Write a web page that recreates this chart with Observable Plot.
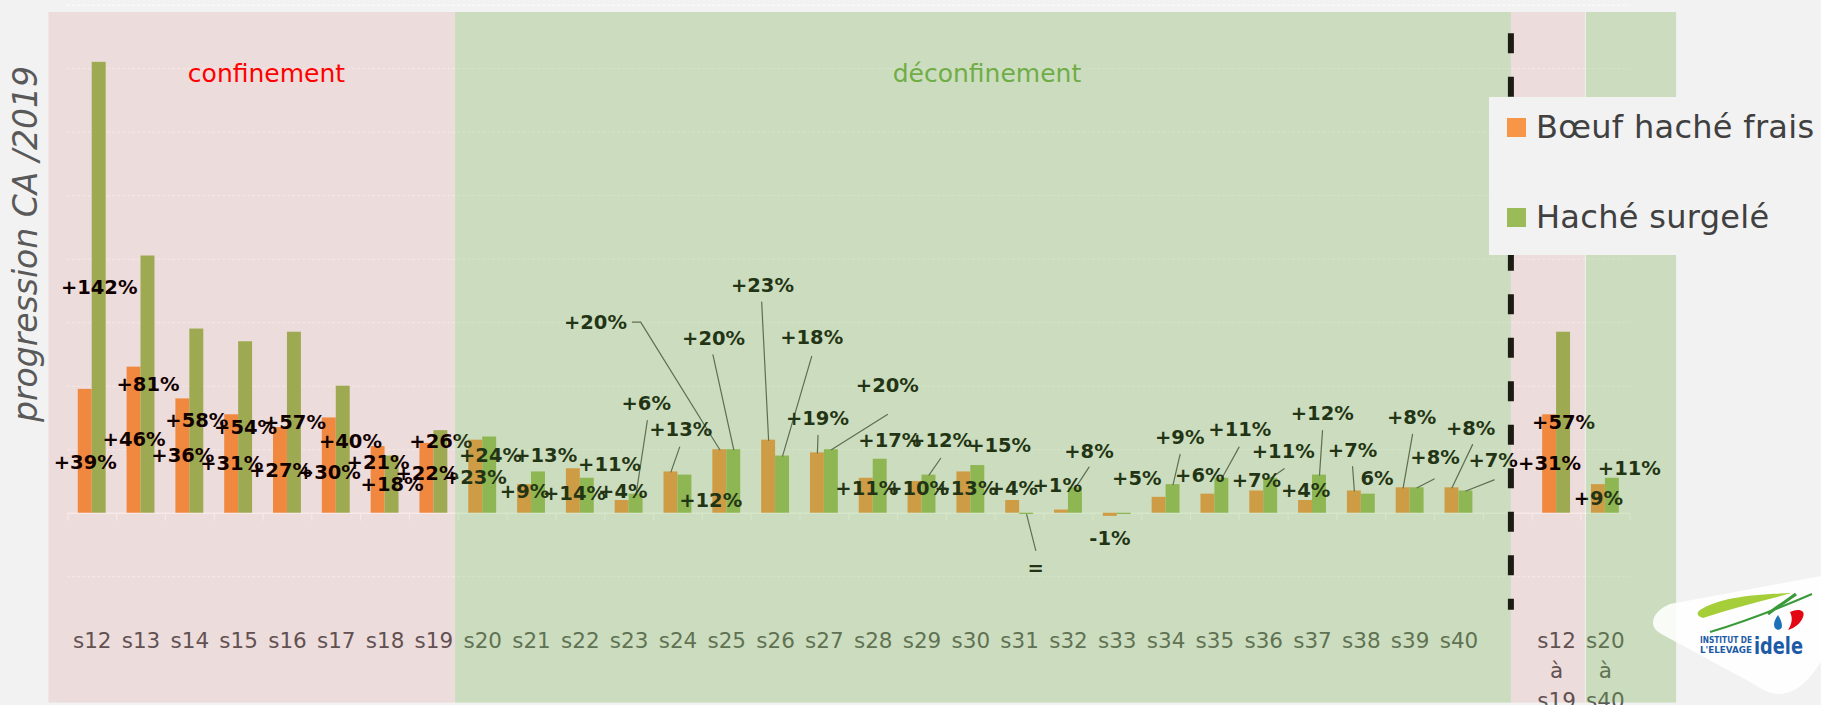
<!DOCTYPE html>
<html>
<head>
<meta charset="utf-8">
<script src="https://cdn.jsdelivr.net/npm/d3@7"></script>
<script src="https://cdn.jsdelivr.net/npm/@observablehq/plot@0.6"></script>
<style>
  html, body { margin: 0; padding: 0; background: #f2f2f2; }
  #wrap { position: relative; width: 1821px; height: 705px; overflow: hidden; background: #f2f2f2; font-family: "DejaVu Sans", sans-serif; }
  #chart { position: absolute; left: 0; top: 0; }
  #ytitle { position: absolute; width: 440px; height: 40px; line-height: 40px; left: 16.2px; top: 223.5px;
            margin-left: -210px; transform: rotate(-90deg); transform-origin: 50% 50%; text-align: center;
            font-family: "DejaVu Sans", sans-serif; font-style: italic; font-weight: 200; font-size: 33px; color: #595959; white-space: nowrap; }
  #legend { position: absolute; left: 1489px; top: 97px; width: 332px; height: 158px; background: #f2f2f2; }
  .item { position: absolute; left: 18px; height: 40px; display: flex; align-items: center; font-size: 32px; letter-spacing: 0.3px; color: #404040; white-space: nowrap; }
  .sw { width: 19px; height: 19px; margin-right: 10px; flex: none; }
  #logo { position: absolute; left: 1640px; top: 570px; }
</style>
</head>
<body>
<div id="wrap">
  <div id="chart"></div>
  <div id="ytitle">progression CA /2019</div>
  <div id="legend"></div>
  <svg id="logo" width="181" height="135" viewBox="0 0 181 135">
    <path d="M13,53 C13,45 20,38 30,34 L181,6 L181,92 C170,108 160,122 140,124 C130,125 120,118 110,112 L25,66 C17,62 13,58 13,53 Z" fill="#ffffff" fill-opacity="0.88"/>
    <path d="M60,40 C78,28 112,24 152,23 C122,31 92,38 63,48 C57,46 56,43 60,40 Z" fill="#a6ce39"/>
    <path d="M70,62 C100,53 135,40 172,24" fill="none" stroke="#3a9a3a" stroke-width="2"/>
    <path d="M128,44 C138,36 148,30 156,24" fill="none" stroke="#3a9a3a" stroke-width="3"/>
    <path d="M150,42 C158,38 166,40 163,47 C161,53 155,58 148,60 C152,54 153,48 150,42 Z" fill="#e30613"/>
    <path d="M138,45 C134,51 133,55 135,58 C137,61 142,60 142,56 C142,52 140,48 138,45 Z" fill="#1d71b8"/>
    <text x="60" y="73" font-family="DejaVu Sans" font-weight="bold" font-size="8" fill="#1d5aa6" textLength="52" lengthAdjust="spacingAndGlyphs">INSTITUT DE</text>
    <text x="60" y="83" font-family="DejaVu Sans" font-weight="bold" font-size="8" fill="#1d5aa6" textLength="52" lengthAdjust="spacingAndGlyphs">L'ELEVAGE</text>
    <text x="114" y="84" font-family="DejaVu Sans" font-weight="bold" font-size="23" fill="#1d5aa6" textLength="49" lengthAdjust="spacingAndGlyphs">idele</text>
  </svg>
</div>
<script>
// ---------------- DATA ----------------
const categories = ["s12","s13","s14","s15","s16","s17","s18","s19","s20","s21","s22","s23","s24","s25","s26","s27","s28","s29","s30","s31","s32","s33","s34","s35","s36","s37","s38","s39","s40","","s12\nà\ns19","s20\nà\ns40"];
const seriesNames = ["Bœuf haché frais", "Haché surgelé"];
const boeuf   = [39,46,36,31,27,30,21,22,23,9,14,4,13,20,23,19,11,10,13,4,1,-1,5,6,7,4,7,8,8,null,31,9];
const surgele = [142,81,58,54,57,40,18,26,24,13,11,6,12,20,18,20,17,12,15,-0.4,8,-0.4,9,11,11,12,6,8,7,null,57,11];
const boeufLabels   = ["+39%","+46%","+36%","+31%","+27%","+30%","+21%","+22%","+23%","+9%","+14%","+4%","+13%","+20%","+23%","+19%","+11%","+10%","+13%","+4%","+1%","-1%","+5%","+6%","+7%","+4%","+7%","+8%","+8%","","+31%","+9%"];
const surgeleLabels = ["+142%","+81%","+58%","+54%","+57%","+40%","+18%","+26%","+24%","+13%","+11%","+6%","+12%","+20%","+18%","+20%","+17%","+12%","+15%","=","+8%","","+9%","+11%","+11%","+12%","6%","+8%","+7%","","+57%","+11%"];
const periodNames = ["confinement", "déconfinement"];
const yGrid = [-20,20,40,60,80,100,120,140,160];

// -------------- LAYOUT (data units, kept apart from the data) --------------
const colors = ["#F79646", "#9BBB59"];
const barW = 1 / 3.5; // Excel gap width 150 %
// moved data labels: [x (slot units, null = default), y (% units)]
const labelPlacement = {
  "0|0": [null, 16.0], "5|0": [null, 12.8], "6|0": [null, 16.0], "7|0": [null, 12.5],
  "8|0": [7.85, 11.2], "9|0": [8.857, 6.6], "10|0": [9.88, 6.1], "11|0": [10.87, 6.6],
  "12|0": [12.057, 26.3], "13|0": [10.31, 60.1], "14|0": [13.73, 71.7], "15|0": [14.857, 29.7],
  "16|0": [15.87, 7.7], "17|0": [16.91, 7.7], "18|0": [17.90, 7.7], "19|0": [18.87, 7.7],
  "20|0": [19.77, 8.7], "21|0": [20.85, -8.1], "22|0": [21.40, 10.8], "23|0": [22.69, 11.9],
  "24|0": [23.85, 10.3], "25|0": [24.86, 7.1], "26|0": [25.82, 19.7], "27|0": [27.03, 30.2],
  "28|0": [28.24, 26.6],
  "5|1": [5.29, 22.6], "7|1": [null, 22.6], "8|1": [8.16, 18.2], "9|1": [9.29, 18.2],
  "10|1": [10.60, 15.2], "11|1": [11.35, 34.5], "12|1": [12.67, 4.0], "13|1": [12.73, 54.9],
  "14|1": [14.74, 55.2], "15|1": [16.29, 40.2], "16|1": [16.34, 22.9], "17|1": [17.38, 22.9],
  "18|1": [18.59, 21.3], "19|1": [19.33, -17.5], "20|1": [20.42, 19.2], "22|1": [22.28, 23.9],
  "23|1": [23.51, 26.4], "24|1": [24.40, 19.2], "25|1": [25.20, 31.3], "26|1": [26.32, 10.8],
  "27|1": [27.51, 17.4], "28|1": [28.70, 16.4], "31|1": [31.49, 14.0]
};
// leader lines: start points, they end at the top of their bar
const leaderStarts = {
  "11|1": [[11.373, 29.2]], "12|0": [[12.035, 20.8]], "13|0": [[11.066, 60.2], [11.236, 60.2]],
  "13|1": [[12.717, 49.9]], "14|0": [[13.715, 66.5]], "14|1": [[14.74, 49.4]], "15|0": [[14.869, 24.5]],
  "15|1": [[16.291, 31.1]], "17|1": [[17.383, 17.3]], "19|1": [[19.33, -11.7]], "20|1": [[20.422, 14.5]],
  "22|1": [[22.287, 18.5]], "23|1": [[23.496, 20.8]], "24|1": [[24.418, 14.0]], "25|1": [[25.205, 26.0]],
  "26|0": [[25.82, 14.7]], "27|0": [[27.049, 24.8]], "27|1": [[27.492, 10.8]], "28|0": [[28.279, 21.6]],
  "28|1": [[28.721, 10.5]]
};
const periodBands = [
  {x1: -0.885, x2: 7.445, fill: "rgb(192,0,0)", op: 0.09},
  {x1: 7.445, x2: 29.074, fill: "rgb(112,173,71)", op: 0.30},
  {x1: 29.074, x2: 30.59, fill: "rgb(192,0,0)", op: 0.09},
  {x1: 30.61, x2: 32.459, fill: "rgb(112,173,71)", op: 0.30}
];
const bandTop = 157.7, bandBottom = -59.8;
const periodTitles = [
  {x: 3.57, y: 138.3, text: periodNames[0], fill: "#ff0000"},
  {x: 18.33, y: 138.3, text: periodNames[1], fill: "#70AD47"}
];

// -------------- BUILD --------------
const series = [boeuf, surgele];
const seriesLabels = [boeufLabels, surgeleLabels];
const bars = [], labels = [], leaders = [];
categories.forEach((c, i) => {
  [0, 1].forEach(s => {
    const v = series[s][i];
    if (v == null) return;
    const x1 = s === 0 ? i - barW : i;
    const x2 = s === 0 ? i : i + barW;
    const cx = (x1 + x2) / 2;
    bars.push({i, s, v, x1, x2});
    const key = i + "|" + s;
    const p = labelPlacement[key];
    const lx = p && p[0] != null ? p[0] : cx;
    const ly = p ? p[1] : v / 2;
    if (seriesLabels[s][i]) labels.push({x: lx, y: ly, text: seriesLabels[s][i]});
    if (leaderStarts[key]) {
      leaderStarts[key].forEach(([x, y]) => leaders.push({key, x, y}));
      leaders.push({key, x: cx, y: v});
    }
  });
});
const tickRows = categories.map((c, i) => ({i, c})).filter(d => d.c);
const boundaries = d3.range(-0.5, 32, 1);

const F = "DejaVu Sans, sans-serif";
const plot = Plot.plot({
  width: 1821,
  height: 705,
  marginLeft: 67.3,
  marginRight: 191.7,
  marginTop: 4.7,
  marginBottom: 128.8,
  style: {background: "transparent", fontFamily: F, overflow: "visible"},
  x: {domain: [-0.5, 31.5], axis: null},
  y: {domain: [-20, 160], axis: null},
  marks: [
    Plot.ruleY(yGrid, {stroke: "#ffffff", strokeWidth: 1, strokeDasharray: "3,2"}),
    Plot.ruleY([0], {stroke: "#ffffff", strokeWidth: 1.5}),
    Plot.ruleX(boundaries, {y1: 0, y2: -2.5, stroke: "#ffffff", strokeWidth: 1.2}),
    Plot.rect(bars.filter(d => d.s === 0), {x1: "x1", x2: "x2", y1: 0, y2: "v", fill: colors[0]}),
    Plot.rect(bars.filter(d => d.s === 1), {x1: "x1", x2: "x2", y1: 0, y2: "v", fill: colors[1]}),
    Plot.line(leaders, {x: "x", y: "y", z: "key", stroke: "#555555", strokeWidth: 1.2}),
    Plot.text(labels, {x: "x", y: "y", text: "text", fill: "#000000", fontWeight: "bold", fontSize: 19.5, fontFamily: F}),
    Plot.text(tickRows, {x: "i", text: "c", frameAnchor: "bottom", lineAnchor: "top", dy: 50.2, lineHeight: 1.395, fontSize: 21.5, fill: "#595959", fontFamily: F}),
    ...periodBands.map(b => Plot.rect([b], {x1: "x1", x2: "x2", y1: bandBottom, y2: bandTop, fill: b.fill, fillOpacity: b.op})),
    Plot.ruleX([29.064], {y1: 151, y2: -30.6, stroke: "#1c1c14", strokeWidth: 6, strokeDasharray: "20,23.5"}),
    Plot.text(periodTitles, {x: "x", y: "y", text: "text", fill: "fill", fontSize: 25, fontFamily: F})
  ]
});
document.getElementById("chart").appendChild(plot);

// legend
const legend = document.getElementById("legend");
const tops = [10, 100];
seriesNames.forEach((name, k) => {
  const it = document.createElement("div");
  it.className = "item";
  it.style.top = tops[k] + "px";
  const sw = document.createElement("span");
  sw.className = "sw";
  sw.style.background = colors[k];
  const tx = document.createElement("span");
  tx.textContent = name;
  it.appendChild(sw); it.appendChild(tx);
  legend.appendChild(it);
});
</script>
</body>
</html>
